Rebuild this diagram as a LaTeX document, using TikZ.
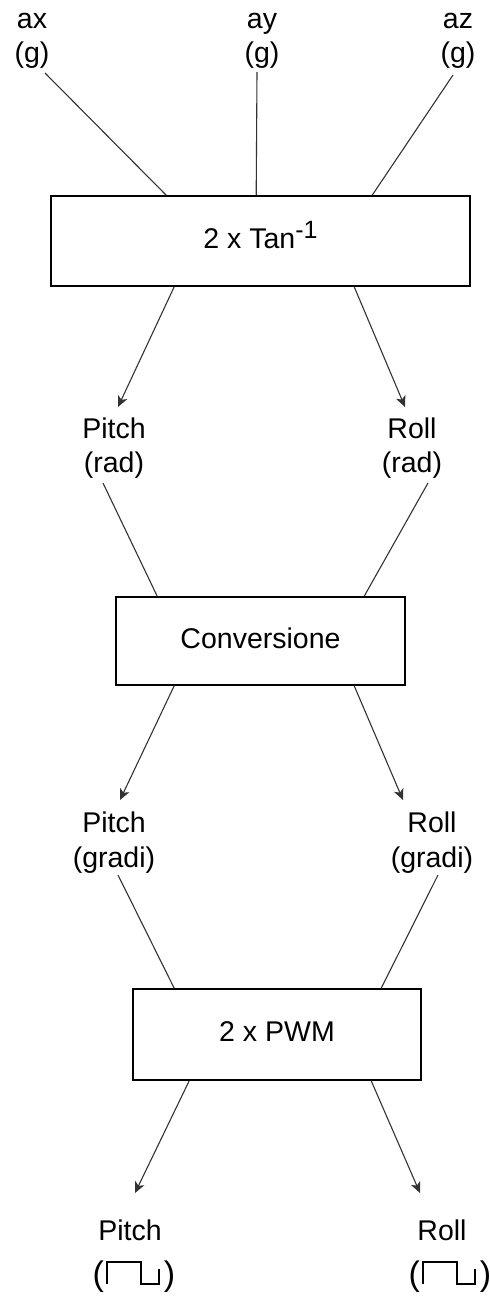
\documentclass[tikz,border=0pt]{standalone}
\usepackage{fontspec}
\setmainfont{Liberation Sans}
\usetikzlibrary{arrows.meta}
\begin{document}
\begin{tikzpicture}[x=1pt,y=-1pt,
  lbl/.style={inner sep=0pt,anchor=base,font=\fontsize{28.5}{34}\selectfont},
  plbl/.style={inner sep=0pt,anchor=base,font=\fontsize{34}{40}\selectfont},
  blk/.style={draw=black,line width=1.6pt,inner sep=0pt,font=\fontsize{28.5}{34}\selectfont,text height=20.5pt,text depth=6.5pt},
  ln/.style={draw=black!80,line width=1.1pt},
  arr/.style={ln,-{Stealth[length=11pt,width=10pt,inset=3pt]}},
  pulseline/.style={draw=black,line width=1.3pt}]
\useasboundingbox (0,0) rectangle (490,1296);
% inputs
\node[lbl] (ax) at (32,28) {ax};
\node[lbl] (axu) at (32,62) {(g)};
\node[lbl] (ay) at (262,28) {ay};
\node[lbl] (ayu) at (262,62) {(g)};
\node[lbl] (az) at (458,28) {az};
\node[lbl] (azu) at (458,62) {(g)};
% boxes
\node[blk,minimum width=419pt,minimum height=90pt] (box1) at (260.5,241) {2 x Tan\raisebox{10pt}{\fontsize{25}{25}\selectfont -1}};
\node[blk,minimum width=289pt,minimum height=88pt] (box2) at (260.5,641) {Conversione};
\node[blk,minimum width=288pt,minimum height=91pt] (box3) at (277,1034.5) {2 x PWM};
% labels
\node[lbl] (pr1) at (114,438) {Pitch};
\node[lbl] (pr2) at (114,472) {(rad)};
\node[lbl] (rr1) at (412,438) {Roll};
\node[lbl] (rr2) at (412,472) {(rad)};
\node[lbl] (pg1) at (114,832) {Pitch};
\node[lbl] (pg2) at (114,867) {(gradi)};
\node[lbl] (rg1) at (432,832) {Roll};
\node[lbl] (rg2) at (432,867) {(gradi)};
\node[lbl] (pp1) at (130,1240) {Pitch};
\node[plbl] (pp2) at (134,1285) {(\hspace{60pt})};
\node[lbl] (rp1) at (442,1240) {Roll};
\node[plbl] (rp2) at (450,1285) {(\hspace{60pt})};
% pulses
\draw[pulseline] ([shift={(-27,-1)}]pp2.base) -- ++(0,-22) -- ++(34,0) -- ++(0,22) -- ++(18,0) -- ++(0,-15);
\draw[pulseline] ([shift={(-27,-1)}]rp2.base) -- ++(0,-22) -- ++(34,0) -- ++(0,22) -- ++(18,0) -- ++(0,-15);
% connectors
\draw[ln] ([shift={(13,11)}]axu.base) -- ([xshift=116pt]box1.north west);
\draw[ln] ([shift={(-5,10)}]ayu.base) -- ([xshift=206pt]box1.north west);
\draw[ln] ([shift={(-5,13)}]azu.base) -- ([xshift=322pt]box1.north west);
\draw[arr] ([xshift=124pt]box1.south west) -- ([shift={(4,-31)}]pr1.base);
\draw[arr] ([xshift=304pt]box1.south west) -- ([shift={(-7,-31)}]rr1.base);
\draw[ln] ([shift={(-11,11)}]pr2.base) -- ([xshift=42pt]box2.north west);
\draw[ln] ([shift={(16,11)}]rr2.base) -- ([xshift=249pt]box2.north west);
\draw[arr] ([xshift=59pt]box2.south west) -- ([shift={(6,-32)}]pg1.base);
\draw[arr] ([xshift=239pt]box2.south west) -- ([shift={(-29,-32)}]rg1.base);
\draw[ln] ([shift={(4,8)}]pg2.base) -- ([xshift=42pt]box3.north west);
\draw[ln] ([shift={(6,8)}]rg2.base) -- ([xshift=249pt]box3.north west);
\draw[arr] ([xshift=57pt]box3.south west) -- ([shift={(5,-47)}]pp1.base);
\draw[arr] ([xshift=239pt]box3.south west) -- ([shift={(-22,-47)}]rp1.base);
\end{tikzpicture}
\end{document}
